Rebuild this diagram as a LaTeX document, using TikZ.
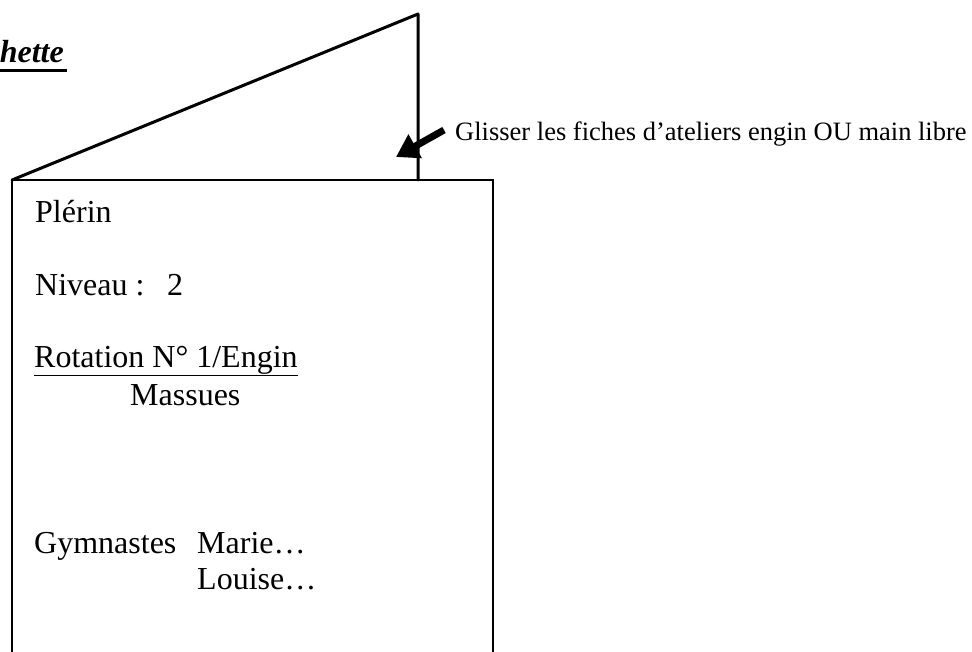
\documentclass[tikz,border=0pt]{standalone}
\usepackage{fontspec}
\setmainfont{Liberation Serif}
\usetikzlibrary{arrows.meta}
\usetikzlibrary{positioning}

\begin{document}
\begin{tikzpicture}[x=1pt,y=-1pt]
                \tikzstyle{every node}=[inner sep=0pt,anchor=base west,font=\fontsize{32}{38}\selectfont]
                \tikzstyle{fold}=[line width=3pt,line cap=round,line join=round]
                \useasboundingbox (0,0) rectangle (972,652);
                \clip (0,0) rectangle (972,652);

                % titre coupe
                \node[anchor=base east,font=\fontsize{32}{38}\selectfont\bfseries\itshape] (titre) at (64,63) {hette};
                \draw[line width=3pt] (0,71) -- (67,71);

                % pochette
                \coordinate (hg) at (12,180);
                \coordinate (hd) at (493,180);
                \coordinate (dos) at (418,14);
                \coordinate (pli) at (418,180);
                \draw[fold] (hg) -- (dos) -- (pli);
                \draw[line width=2pt] (12,700) -- (hg) -- (hd) -- (493,700);

                % fleche
                \node[font=\fontsize{26.5}{30}\selectfont] (glisser) at (455,141) {Glisser les fiches d’ateliers engin OU main libre};
                \coordinate (queue) at (444,130);
                \coordinate (pointe) at (396,157);
                \draw[line width=7pt,-{Triangle[length=22pt,width=26pt]}] (queue) -- (pointe);

                % fiche
                \node (lieu) at (35,223) {Plérin};
                \node (niveau) at (35,296) {Niveau :};
                \node (num) at (167,296) {2};
                \node (rot) at (34,367) {\underline{Rotation N° 1/Engin}};
                \node (engin) at (130,405) {Massues};
                \node (gym) at (34,553) {Gymnastes};
                \node (g1) at (197,553) {Marie…};
                \node (g2) at (197,589) {Louise…};
            \end{tikzpicture}
\end{document}
